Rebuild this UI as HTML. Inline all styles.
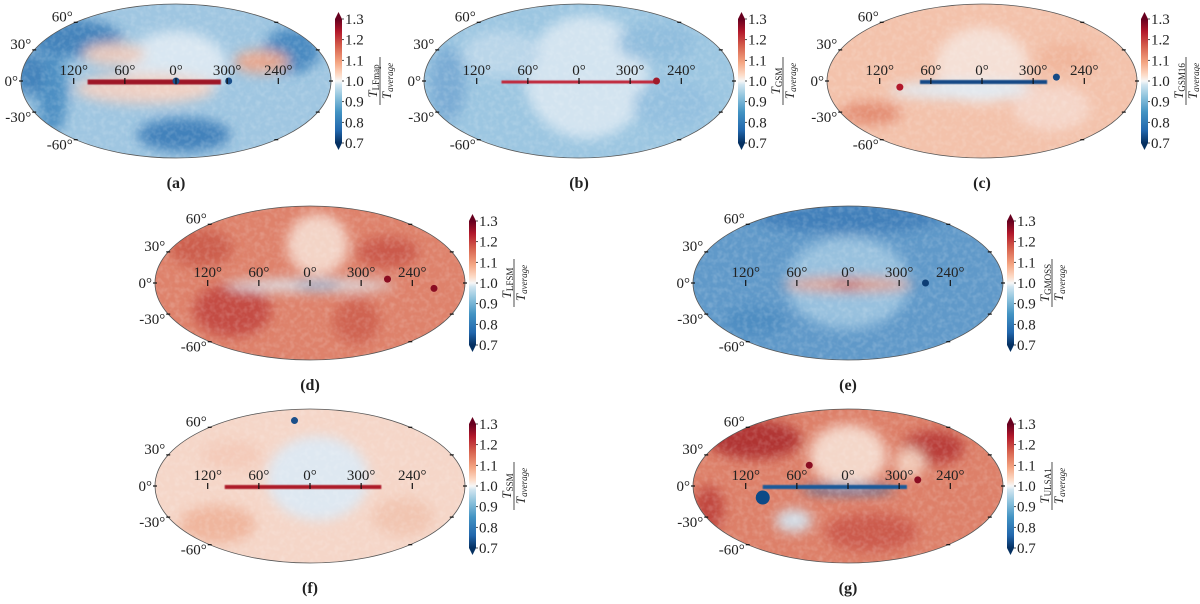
<!DOCTYPE html>
<html><head><meta charset="utf-8"><style>
html,body{margin:0;padding:0;background:#fff;}
svg{display:block;}
text{font-family:"Liberation Serif",serif;fill:#222;}
</style></head><body>
<svg id="fig" width="1200" height="604" viewBox="0 0 1200 604" xmlns="http://www.w3.org/2000/svg">
<defs>
<linearGradient id="rdbu" x1="0" y1="1" x2="0" y2="0">
<stop offset="0" stop-color="#053061"/><stop offset="0.1" stop-color="#2166ac"/><stop offset="0.25" stop-color="#4393c3"/>
<stop offset="0.38" stop-color="#92c5de"/><stop offset="0.47" stop-color="#d1e5f0"/><stop offset="0.5" stop-color="#f7f7f7"/>
<stop offset="0.55" stop-color="#fddbc7"/><stop offset="0.65" stop-color="#f4a582"/><stop offset="0.78" stop-color="#d6604d"/>
<stop offset="0.9" stop-color="#b2182b"/><stop offset="1" stop-color="#67001f"/>
</linearGradient>
<filter id="blur" x="-50%" y="-50%" width="200%" height="200%"><feGaussianBlur stdDeviation="6"/></filter>
<filter id="blur2" x="-20%" y="-200%" width="140%" height="500%"><feGaussianBlur stdDeviation="0.6"/></filter>
<filter id="noise"><feTurbulence type="fractalNoise" baseFrequency="0.2" numOctaves="2" seed="3"/><feColorMatrix type="matrix" values="0 0 0 0 1  0 0 0 0 1  0 0 0 0 1  0 0 0 -1.8 1.1"/></filter>
</defs>
</svg>
<script>
const cbTicks=[0.7,0.8,0.9,1.0,1.1,1.2,1.3];
const cbMin=0.7, cbMax=1.3;
const lonLabels=["120°","60°","0°","300°","240°"];
const lonValues=[120,60,0,-60,-120];
const latValues=[60,30,0,-30,-60];
const panelLetters=["(a)","(b)","(c)","(d)","(e)","(f)","(g)"];
const panelNames=["LFmap","GSM","GSM16","LFSM","GMOSS","SSM","ULSA1"];

const NS="http://www.w3.org/2000/svg";
const svg=document.getElementById('fig');
function mk(tag,attrs,parent){const e=document.createElementNS(NS,tag);for(const k in attrs)e.setAttribute(k,attrs[k]);(parent||svg).appendChild(e);return e;}
function mollTheta(lat){const p=Math.PI*Math.sin(lat*Math.PI/180);let t=lat*Math.PI/180;for(let i=0;i<30;i++){const f=2*t+Math.sin(2*t)-p;const d=2+2*Math.cos(2*t);if(Math.abs(d)<1e-9)break;t-=f/d;}return t;}

const panels=[
 {cx:176,cy:81,base:"#9fc6e1",blobs:[[-0.65,-0.55,0.3,0.25,"#3f80b9"],[-0.8,0.15,0.1,0.55,"#4a8cc2"],[0.05,0.7,0.3,0.22,"#3b7db8"],[0.75,-0.4,0.18,0.3,"#4586bf"],[-0.95,-0.1,0.1,0.3,"#3f80b9"],[0,-0.2,0.33,0.45,"#dce9f2"],[-0.2,0.1,0.45,0.2,"#f0d0c3"],[0.55,-0.25,0.18,0.15,"#eca68b"],[-0.4,-0.35,0.2,0.15,"#eccabd"]],plane:["#9e1528",-0.57,0.29,5],spots:[[0.34,0.0,"#1b4f8a"],[0.0,0.0,"#1b4f8a"]]},
 {cx:579,cy:81,base:"#9cc6e1",blobs:[[0.05,-0.05,0.4,0.8,"#d6e6f1"],[-0.5,-0.35,0.25,0.3,"#bcd7ea"],[-0.85,0.05,0.12,0.5,"#78abd4"],[0.6,0.3,0.25,0.3,"#93c0df"],[0.5,-0.5,0.25,0.25,"#8fbddd"]],plane:["#c0283a",-0.5,0.5,3],spots:[[0.5,0.0,"#a01a2a"]]},
 {cx:982,cy:81,base:"#f3c2ab",blobs:[[0,-0.2,0.3,0.5,"#f6e2d8"],[-0.72,0.42,0.2,0.15,"#e38a70"],[-0.1,0.12,0.5,0.12,"#e0ebf3"],[0.45,0.35,0.25,0.3,"#f5d7ca"],[0.55,-0.3,0.2,0.2,"#f0b59b"]],plane:["#164a86",-0.4,0.42,4],spots:[[-0.53,0.08,"#b2182b"],[0.48,-0.05,"#164a86"]]},
 {cx:310,cy:283,base:"#de826b",blobs:[[-0.5,0.35,0.25,0.35,"#c34a40"],[0.5,-0.4,0.2,0.2,"#c9574a"],[-0.7,-0.45,0.2,0.25,"#cb5c4b"],[0.05,-0.5,0.2,0.4,"#f4d8cb"],[0.3,0.5,0.15,0.3,"#cf6150"],[0,0.03,0.55,0.08,"#dbe8f1"],[0.05,0.03,0.15,0.04,"#4e8cc2"]],plane:null,spots:[[0.5,-0.05,"#8a0d22"],[0.8,0.07,"#8a0d22"]]},
 {cx:848,cy:283,base:"#6099c9",blobs:[[0,-0.85,0.6,0.2,"#3f7db8"],[0,0,0.4,0.6,"#9bc3df"],[0,0.02,0.42,0.09,"#e69e86"],[0,0.02,0.1,0.05,"#c44a40"],[-0.6,0.5,0.2,0.2,"#4e8cc2"]],plane:null,spots:[[0.5,0.0,"#0d3d74"]]},
 {cx:310,cy:486,base:"#f5d6c8",blobs:[[0.05,-0.1,0.33,0.55,"#dde9f3"],[-0.6,0.5,0.25,0.25,"#efb49c"],[0.6,0.4,0.2,0.25,"#f1c4b0"],[-0.5,-0.4,0.2,0.2,"#f3cab8"]],plane:["#ad1a2b",-0.55,0.46,4],spots:[[-0.1,-0.85,"#1b4f8a"]]},
 {cx:848,cy:486,base:"#dd8069",blobs:[[-0.6,-0.6,0.3,0.25,"#ae2e2e"],[0.55,-0.5,0.2,0.22,"#b73a35"],[0,-0.4,0.25,0.4,"#f5dbcf"],[0.4,-0.3,0.1,0.2,"#f2ceBc"],[-0.35,0.45,0.12,0.15,"#d3e4ef"],[-0.9,0.3,0.1,0.3,"#bf453b"],[0.15,0.6,0.3,0.25,"#cb5a4b"],[0,0.04,0.3,0.06,"#2a6aa8"]],plane:["#1d5a99",-0.55,0.38,4],spots:[[0.45,-0.08,"#8a0d22"],[-0.25,-0.27,"#8a0d22"]],disc:[-0.55,0.15,7,"#0d4a87"]}
];
const RX=155, RY=77;

panels.forEach((p,i)=>{
  const g=mk('g',{transform:`translate(${p.cx},${p.cy})`});
  
  
  const cid='clip'+i;
  const cp=mk('clipPath',{id:cid},g);mk('ellipse',{cx:0,cy:0,rx:RX,ry:RY},cp);
  const inner=mk('g',{'clip-path':`url(#${cid})`},g);
  mk('ellipse',{cx:0,cy:0,rx:RX,ry:RY,fill:p.base},inner);
  const bg=mk('g',{filter:'url(#blur)'},inner);
  p.blobs.forEach(b=>mk('ellipse',{cx:b[0]*RX,cy:b[1]*RY,rx:b[2]*RX,ry:b[3]*RY,fill:b[4],opacity:0.95},bg));
  mk('rect',{x:-RX,y:-RY,width:2*RX,height:2*RY,filter:'url(#noise)',opacity:0.2},inner);
  if(p.plane){const pl=p.plane;const r=mk('rect',{x:pl[1]*RX,y:-pl[3]/2+1,width:(pl[2]-pl[1])*RX,height:pl[3],fill:pl[0],filter:'url(#blur2)'},inner);
    }
  (p.spots||[]).forEach(s=>mk('ellipse',{cx:s[0]*RX,cy:s[1]*RY,rx:3.5,ry:3.5,fill:s[2]},inner));
  if(p.disc)mk('circle',{cx:p.disc[0]*RX,cy:p.disc[1]*RY,r:p.disc[2],fill:p.disc[3]},inner);
  const outline=mk('ellipse',{cx:0,cy:0,rx:RX,ry:RY,fill:'none',stroke:'#555','stroke-width':0.8},g);
  
  lonValues.forEach((lv,k)=>{
    const x=-lv/180*RX*0.99;
    mk('line',{x1:x,y1:-3,x2:x,y2:3,stroke:'#111','stroke-width':1.2},g);
    const t=mk('text',{x:x,y:-6,'font-size':15,'text-anchor':'middle'},g);t.textContent=lonLabels[k];
    
  });
  latValues.forEach(lat=>{
    const th=mollTheta(lat);const y=-Math.sin(th)*RY;const xe=-Math.cos(th)*RX;
    mk('line',{x1:xe-2,y1:y,x2:xe+2,y2:y,stroke:'#111','stroke-width':1.2},g);
    mk('line',{x1:-xe-2,y1:y,x2:-xe+2,y2:y,stroke:'#111','stroke-width':1.2},g);
    const t=mk('text',{x:xe-3,y:y+(lat>0?-1:lat<0?10:5),'font-size':15,'text-anchor':'end'},g);t.textContent=(lat<0?'-':'')+Math.abs(lat)+'°';
    
  });
  const cbx=RX+4, top=-62, bot=62, w=7;
  const cb=mk('g',{},g);
  
  mk('rect',{x:cbx,y:top,width:w,height:bot-top,fill:'url(#rdbu)'},cb);
  mk('polygon',{points:`${cbx},${top} ${cbx+w},${top} ${cbx+w/2},${top-7}`,fill:'#67001f'},cb);
  mk('polygon',{points:`${cbx},${bot} ${cbx+w},${bot} ${cbx+w/2},${bot+7}`,fill:'#053061'},cb);
  cbTicks.forEach(v=>{
    const y=bot-(v-cbMin)/(cbMax-cbMin)*(bot-top);
    mk('line',{x1:cbx+w,y1:y,x2:cbx+w+2,y2:y,stroke:'#222','stroke-width':0.8},cb);
    const t=mk('text',{x:cbx+w+3,y:y+5,'font-size':15},cb);t.textContent=v.toFixed(1);
    
  });
  const fr=mk('g',{transform:`translate(${cbx+45},0) rotate(-90)`},cb);
  
  const n=mk('text',{x:0,y:-3,'font-size':13,'text-anchor':'middle','font-style':'italic'},fr);
  n.innerHTML=`T<tspan font-size="9" font-style="normal" dy="2">${panelNames[i]}</tspan>`;
  mk('line',{x1:-24,y1:0,x2:24,y2:0,stroke:'#222','stroke-width':0.8},fr);
  const d=mk('text',{x:0,y:11,'font-size':13,'text-anchor':'middle','font-style':'italic'},fr);
  d.innerHTML=`T<tspan font-size="9" dy="2">average</tspan>`;
  const lab=mk('text',{x:0,y:RY+30,'font-size':16,'font-weight':'bold','text-anchor':'middle'},g);
  lab.textContent=panelLetters[i];
  
});
</script>
</body></html>
